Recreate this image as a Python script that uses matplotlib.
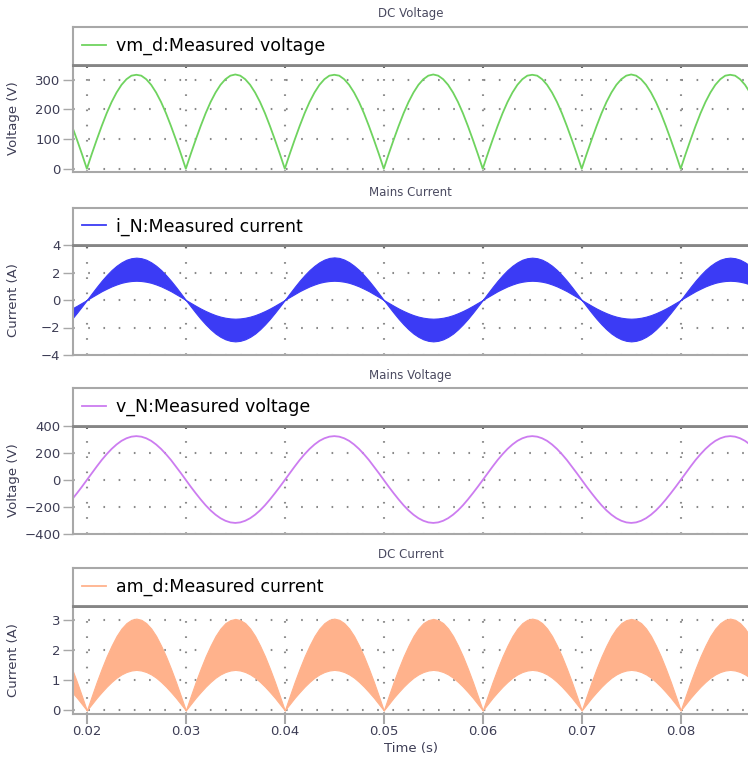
import numpy as np
import matplotlib
matplotlib.use('Agg')
import matplotlib.pyplot as plt
from matplotlib.lines import Line2D

# sample times, 0.5 ms apart (18.0 ms .. 87.0 ms)
t = np.arange(36, 175) / 2000.0

# DC voltage vm_d (V), rectified mains, one row per 10 ms
vm_d = [187, 144, 98, 50,
        0, 50, 98, 144, 187, 225, 257, 283, 302, 314, 317, 314, 302, 283, 257, 225, 187, 144, 98, 50,
        0, 50, 98, 144, 187, 225, 257, 283, 302, 314, 318, 314, 302, 283, 257, 225, 187, 144, 98, 50,
        0, 50, 98, 144, 187, 225, 257, 283, 302, 314, 317, 314, 302, 283, 257, 225, 187, 144, 98, 50,
        0, 50, 98, 144, 187, 225, 257, 283, 302, 314, 318, 314, 302, 283, 257, 225, 187, 144, 98, 50,
        0, 50, 98, 144, 187, 225, 257, 283, 302, 314, 317, 314, 302, 283, 257, 225, 187, 144, 98, 50,
        0, 50, 98, 144, 187, 225, 257, 283, 302, 314, 318, 314, 302, 283, 257, 225, 187, 144, 98, 50,
        0, 50, 98, 144, 187, 225, 257, 283, 302, 314, 317, 314, 302, 283, 257]

# mains voltage v_N (V)
v_n = [-187, -144, -98, -50,
       0, 51, 100, 148, 191, 230, 263, 290, 309, 321, 325, 321, 309, 290, 263, 230, 191, 148, 100, 51,
       0, -50, -98, -144, -187, -225, -257, -283, -302, -314, -318, -314, -302, -283, -257, -225, -187, -144, -98, -50,
       0, 51, 100, 148, 191, 230, 263, 290, 309, 321, 325, 321, 309, 290, 263, 230, 191, 148, 100, 51,
       0, -50, -98, -144, -187, -225, -257, -283, -302, -314, -318, -314, -302, -283, -257, -225, -187, -144, -98, -50,
       0, 51, 100, 148, 191, 230, 263, 290, 309, 321, 325, 321, 309, 290, 263, 230, 191, 148, 100, 51,
       0, -50, -98, -144, -187, -225, -257, -283, -302, -314, -318, -314, -302, -283, -257, -225, -187, -144, -98, -50,
       0, 51, 100, 148, 191, 230, 263, 290, 309, 321, 325, 321, 309, 290, 263]

# mains current i_N (A): upper and lower edge of the switching ripple band
i_n_high = [-0.80, -0.62, -0.42, -0.21,
            0, 0.48, 0.95, 1.40, 1.81, 2.18, 2.49, 2.74, 2.93, 3.04, 3.08, 3.04, 2.93, 2.74, 2.49, 2.18, 1.81, 1.40, 0.95, 0.48,
            0, -0.21, -0.42, -0.62, -0.80, -0.96, -1.10, -1.21, -1.29, -1.34, -1.36, -1.34, -1.29, -1.21, -1.10, -0.96, -0.80, -0.62, -0.42, -0.21,
            0, 0.48, 0.95, 1.40, 1.81, 2.18, 2.49, 2.75, 2.94, 3.06, 3.10, 3.06, 2.94, 2.75, 2.49, 2.18, 1.81, 1.40, 0.95, 0.48,
            0, -0.21, -0.42, -0.62, -0.80, -0.96, -1.10, -1.21, -1.29, -1.34, -1.36, -1.34, -1.29, -1.21, -1.10, -0.96, -0.80, -0.62, -0.42, -0.21,
            0, 0.48, 0.95, 1.40, 1.81, 2.18, 2.49, 2.74, 2.93, 3.04, 3.08, 3.04, 2.93, 2.74, 2.49, 2.18, 1.81, 1.40, 0.95, 0.48,
            0, -0.21, -0.42, -0.62, -0.80, -0.96, -1.10, -1.21, -1.29, -1.34, -1.36, -1.34, -1.29, -1.21, -1.10, -0.96, -0.80, -0.62, -0.42, -0.21,
            0, 0.48, 0.95, 1.40, 1.81, 2.18, 2.49, 2.74, 2.93, 3.04, 3.08, 3.04, 2.93, 2.74, 2.49]
i_n_low = [-1.77, -1.37, -0.93, -0.47,
           0, 0.22, 0.43, 0.64, 0.82, 0.99, 1.13, 1.25, 1.33, 1.38, 1.40, 1.38, 1.33, 1.25, 1.13, 0.99, 0.82, 0.64, 0.43, 0.22,
           0, -0.47, -0.93, -1.37, -1.77, -2.13, -2.44, -2.68, -2.86, -2.97, -3.01, -2.97, -2.86, -2.68, -2.44, -2.13, -1.77, -1.37, -0.93, -0.47,
           0, 0.22, 0.43, 0.64, 0.82, 0.99, 1.13, 1.25, 1.33, 1.38, 1.40, 1.38, 1.33, 1.25, 1.13, 0.99, 0.82, 0.64, 0.43, 0.22,
           0, -0.47, -0.93, -1.37, -1.77, -2.13, -2.44, -2.68, -2.86, -2.97, -3.01, -2.97, -2.86, -2.68, -2.44, -2.13, -1.77, -1.37, -0.93, -0.47,
           0, 0.22, 0.43, 0.64, 0.82, 0.99, 1.13, 1.25, 1.33, 1.38, 1.40, 1.38, 1.33, 1.25, 1.13, 0.99, 0.82, 0.64, 0.43, 0.22,
           0, -0.47, -0.93, -1.37, -1.77, -2.13, -2.44, -2.68, -2.86, -2.97, -3.01, -2.97, -2.86, -2.68, -2.44, -2.13, -1.77, -1.37, -0.93, -0.47,
           0, 0.22, 0.43, 0.64, 0.82, 0.99, 1.13, 1.25, 1.33, 1.38, 1.40, 1.38, 1.33, 1.25, 1.13]

# DC current am_d (A): upper and lower edge of ripple band
am_d_high = [1.80, 1.39, 0.95, 0.48,
             0, 0.48, 0.95, 1.39, 1.80, 2.16, 2.48, 2.73, 2.91, 3.02, 3.06, 3.02, 2.91, 2.73, 2.48, 2.16, 1.80, 1.39, 0.95, 0.48,
             0, 0.48, 0.95, 1.39, 1.80, 2.16, 2.48, 2.73, 2.91, 3.01, 3.05, 3.01, 2.91, 2.73, 2.48, 2.16, 1.80, 1.39, 0.95, 0.48,
             0, 0.48, 0.95, 1.39, 1.80, 2.16, 2.48, 2.73, 2.91, 3.02, 3.06, 3.02, 2.91, 2.73, 2.48, 2.16, 1.80, 1.39, 0.95, 0.48,
             0, 0.48, 0.95, 1.39, 1.80, 2.16, 2.48, 2.73, 2.91, 3.01, 3.05, 3.01, 2.91, 2.73, 2.48, 2.16, 1.80, 1.39, 0.95, 0.48,
             0, 0.48, 0.95, 1.39, 1.80, 2.16, 2.48, 2.73, 2.91, 3.02, 3.06, 3.02, 2.91, 2.73, 2.48, 2.16, 1.80, 1.39, 0.95, 0.48,
             0, 0.48, 0.95, 1.39, 1.80, 2.16, 2.48, 2.73, 2.91, 3.01, 3.05, 3.01, 2.91, 2.73, 2.48, 2.16, 1.80, 1.39, 0.95, 0.48,
             0, 0.48, 0.95, 1.39, 1.80, 2.16, 2.48, 2.73, 2.91, 3.02, 3.06, 3.02, 2.91, 2.73, 2.48]
am_d_low = [0.79, 0.61, 0.42, 0.21,
            0, 0.21, 0.42, 0.61, 0.79, 0.95, 1.09, 1.20, 1.28, 1.33, 1.35, 1.33, 1.28, 1.20, 1.09, 0.95, 0.79, 0.61, 0.42, 0.21,
            0, 0.21, 0.42, 0.61, 0.79, 0.95, 1.09, 1.20, 1.28, 1.33, 1.35, 1.33, 1.28, 1.20, 1.09, 0.95, 0.79, 0.61, 0.42, 0.21,
            0, 0.21, 0.42, 0.61, 0.79, 0.95, 1.09, 1.20, 1.28, 1.33, 1.35, 1.33, 1.28, 1.20, 1.09, 0.95, 0.79, 0.61, 0.42, 0.21,
            0, 0.21, 0.42, 0.61, 0.79, 0.95, 1.09, 1.20, 1.28, 1.33, 1.35, 1.33, 1.28, 1.20, 1.09, 0.95, 0.79, 0.61, 0.42, 0.21,
            0, 0.21, 0.42, 0.61, 0.79, 0.95, 1.09, 1.20, 1.28, 1.33, 1.35, 1.33, 1.28, 1.20, 1.09, 0.95, 0.79, 0.61, 0.42, 0.21,
            0, 0.21, 0.42, 0.61, 0.79, 0.95, 1.09, 1.20, 1.28, 1.33, 1.35, 1.33, 1.28, 1.20, 1.09, 0.95, 0.79, 0.61, 0.42, 0.21,
            0, 0.21, 0.42, 0.61, 0.79, 0.95, 1.09, 1.20, 1.28, 1.33, 1.35, 1.33, 1.28, 1.20, 1.09]

x_ticks = [0.02, 0.03, 0.04, 0.05, 0.06, 0.07, 0.08]
x_tick_labels = ['0.02', '0.03', '0.04', '0.05', '0.06', '0.07', '0.08']

# figure is laid out in pixels
W, H = 748, 759
fig = plt.figure(figsize=(W / 100, H / 100), dpi=100)

txt_col = '#3d3d55'
frame_col = '#a8a8a8'
dark_col = '#858585'
left_px = 73

# title, title y, legend top, plot top, plot bottom, ylabel, ylim, yticks, legend label, colour
panels = [
    ('DC Voltage', 14, 27, 65, 172, 'Voltage (V)', (-11, 350), [0, 100, 200, 300],
     'vm_d:Measured voltage', '#6fd35f'),
    ('Mains Current', 193, 208, 245, 355, 'Current (A)', (-4, 4), [-4, -2, 0, 2, 4],
     'i_N:Measured current', '#3b3bf5'),
    ('Mains Voltage', 375, 388, 426, 534, 'Voltage (V)', (-400, 400), [-400, -200, 0, 200, 400],
     'v_N:Measured voltage', '#cc7cf0'),
    ('DC Current', 555, 568, 606, 714, 'Current (A)', (-0.12, 3.48), [0, 1, 2, 3],
     'am_d:Measured current', '#ffb28c'),
]

for k, (title, ty, ltop, ptop, pbot, ylab, ylim, yticks, lab, col) in enumerate(panels):
    ax = fig.add_axes([left_px / W, 1 - pbot / H, (W - left_px) / W, (pbot - ptop) / H])
    ax_leg = fig.add_axes([left_px / W, 1 - ptop / H, (W - left_px) / W, (ptop - ltop) / H])

    if k == 0:
        ax.plot(t, vm_d, color=col, lw=1.3)
    elif k == 1:
        ax.fill_between(t, i_n_low, i_n_high, color=col, lw=0.8)
    elif k == 2:
        ax.plot(t, v_n, color=col, lw=1.3)
    else:
        ax.fill_between(t, am_d_low, am_d_high, color=col, lw=0.8)

    ax.set_xlim(0.0186, 0.0868)
    ax.set_ylim(*ylim)
    ax.set_yticks(yticks)
    ax.set_xticks(x_ticks)
    # dotted grid like the simulator's dot pattern
    ax.grid(True, color='#8a8a8a', lw=1.5, linestyle=(0, (0.8, 6.5)))
    ax.set_axisbelow(True)

    for s in ['left', 'bottom']:
        ax.spines[s].set_color(frame_col)
        ax.spines[s].set_linewidth(1.5)
    ax.spines['right'].set_visible(False)
    ax.spines['top'].set_color(dark_col)
    ax.spines['top'].set_linewidth(2)

    ax.tick_params(axis='y', direction='out', length=7, width=1, color=frame_col,
                   labelsize=9.5, labelcolor=txt_col, pad=2)
    if k == 3:
        ax.tick_params(axis='x', direction='out', length=7, width=1.5, color=frame_col,
                       labelsize=9.5, labelcolor=txt_col, pad=1, top=True)
        ax.set_xticklabels(x_tick_labels)
        ax.set_xlabel('Time (s)', fontsize=9.5, color=txt_col)
        ax.xaxis.set_label_coords(0.5, -0.255)
    else:
        ax.tick_params(axis='x', bottom=False, top=True, direction='in', length=2,
                       width=1.5, color='#666666', labelbottom=False)

    ax.set_ylabel(ylab, fontsize=9.5, color=txt_col)
    ax.yaxis.set_label_coords(-53 / (W - left_px), 0.5)

    # legend box above each plot
    ax_leg.set_xticks([])
    ax_leg.set_yticks([])
    for s in ['left', 'top']:
        ax_leg.spines[s].set_color(frame_col)
        ax_leg.spines[s].set_linewidth(1.5)
    ax_leg.spines['right'].set_visible(False)
    ax_leg.spines['bottom'].set_color(dark_col)
    ax_leg.spines['bottom'].set_linewidth(2)
    handle = Line2D([], [], color=col, lw=1.3)
    ax_leg.legend([handle], [lab], loc='center left', bbox_to_anchor=(0, 0.5),
                  frameon=False, fontsize=12.5, handlelength=1.4, handletextpad=0.55,
                  borderaxespad=0.5, borderpad=0)

    fig.text((left_px + W) / 2 / W, 1 - ty / H, title, ha='center', va='center',
             fontsize=8.5, color='#4a4a60')

fig.savefig('out.png', dpi=100)
